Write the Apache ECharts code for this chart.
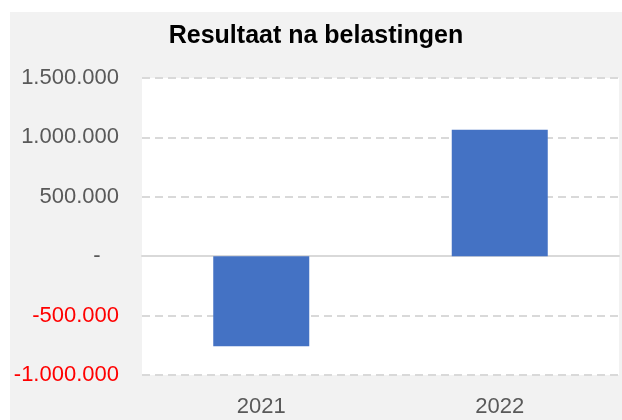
<!DOCTYPE html>
<html>
<head>
<meta charset="utf-8">
<script src="https://cdn.jsdelivr.net/npm/echarts@6/dist/echarts.min.js"></script>
<style>
html,body{margin:0;padding:0;background:#fff;}
#chart{position:absolute;left:10px;top:12px;width:612px;height:408px;}
</style>
</head>
<body>
<div id="chart"></div>
<script>
// data
var jaren = ['2021', '2022'];
var resultaat = [-759000, 1064000];

function fmt(v) {
	if (v === 0) return '-   ';
	var s = Math.abs(v).toString().replace(/\B(?=(\d{3})+(?!\d))/g, '.');
	return (v < 0 ? '-' : '') + s;
}

var mychart = echarts.init(document.getElementById('chart'));
var option = {
	backgroundColor: '#f2f2f2',
	title: {
		text: 'Resultaat na belastingen',
		left: 'center',
		top: 7,
		textStyle: {
			fontFamily: 'Liberation Sans',
			fontSize: 25,
			fontWeight: 'bold',
			color: '#000'
		}
	},
	grid: {
		left: 132,
		right: 3,
		top: 66,
		bottom: 45,
		show: true,
		backgroundColor: '#fff',
		borderWidth: 0
	},
	xAxis: {
		type: 'category',
		data: jaren,
		axisTick: { show: false },
		axisLine: { onZero: true, lineStyle: { color: '#d9d9d9', width: 2 } },
		axisLabel: {
			fontFamily: 'Liberation Sans',
			fontSize: 22,
			color: '#595959',
			margin: 21
		}
	},
	yAxis: {
		type: 'value',
		min: -1000000,
		max: 1500000,
		interval: 500000,
		axisLine: { show: false },
		axisTick: { show: false },
		splitLine: { lineStyle: { color: '#d9d9d9', width: 2, type: [8, 5] } },
		axisLabel: {
			fontFamily: 'Liberation Sans',
			fontSize: 22,
			margin: 23,
			color: function (v) { return Number(v) < 0 ? '#ff0000' : '#595959'; },
			formatter: fmt
		}
	},
	series: [{
		type: 'bar',
		data: resultaat,
		barWidth: 96,
		itemStyle: { color: '#4472c4' }
	}]
};
mychart.setOption(option);
</script>
</body>
</html>
